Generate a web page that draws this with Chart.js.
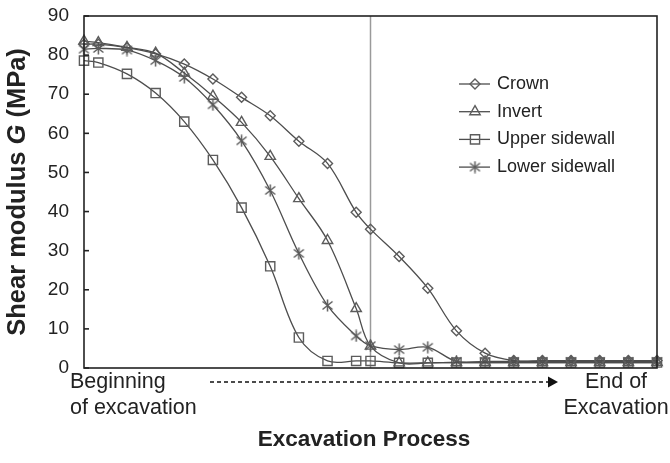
<!DOCTYPE html>
<html><head><meta charset="utf-8">
<script src="https://cdn.jsdelivr.net/npm/chart.js@4"></script>
<style>html,body{margin:0;padding:0;background:#fff;}#wrap{width:670px;height:463px;position:relative;}</style>
</head><body><div id="wrap"><canvas id="c" width="670" height="463"></canvas></div>
<script>
// excavation steps (x positions along the process)
const steps = [0, 0.5, 1.5, 2.5, 3.5, 4.5, 5.5, 6.5, 7.5, 8.5, 9.5, 10, 11, 12, 13, 14, 15, 16, 17, 18, 19, 20];
const crown         = [82.8, 82.8, 81.9, 80.3, 77.7, 73.9, 69.2, 64.5, 58.0, 52.3, 39.8, 35.5, 28.5, 20.4, 9.5, 3.8, 1.9, 1.9, 1.9, 1.9, 1.9, 1.9];
const invert        = [83.6, 83.2, 82.0, 80.5, 75.4, 69.5, 62.8, 54.1, 43.3, 32.6, 15.2, 5.6, 1.3, 1.3, 1.4, 1.4, 1.4, 1.4, 1.4, 1.4, 1.4, 1.4];
const upperSidewall = [78.6, 78.1, 75.2, 70.3, 63.0, 53.2, 41.0, 26.0, 7.8, 1.8, 1.8, 1.8, 1.3, 1.3, 1.4, 1.4, 1.4, 1.4, 1.4, 1.4, 1.4, 1.4];
const lowerSidewall = [81.5, 81.7, 81.3, 78.6, 74.3, 67.3, 58.1, 45.4, 29.3, 16.0, 8.2, 5.7, 4.7, 5.3, 1.7, 1.7, 1.7, 1.7, 1.7, 1.7, 1.7, 1.7];
const seriesNames = ['Crown', 'Invert', 'Upper sidewall', 'Lower sidewall'];
const yTickValues = [0, 10, 20, 30, 40, 50, 60, 70, 80, 90];
const markerStep = 10; // vertical reference line
const startLabel = ['Beginning', 'of excavation'];
const endLabel = ['End of', 'Excavation'];
const xTitle = 'Excavation Process';
const yTitleParts = [['Shear modulus ', false], ['G', true], [' (MPa)', false]];

const FONT = '"Liberation Sans", Arial, sans-serif';
const LINE = '#4d4d4d';
const MARK = '#5c5c5c';

// asterisk marker (vertical bar + X)
const asterisk = document.createElement('canvas');
asterisk.width = 13; asterisk.height = 13;
(function () {
  const g = asterisk.getContext('2d');
  g.strokeStyle = MARK; g.lineWidth = 1.5;
  g.beginPath();
  g.moveTo(6.5, 0.5); g.lineTo(6.5, 12.5);
  g.moveTo(1.5, 2.5); g.lineTo(11.5, 10.5);
  g.moveTo(1.5, 10.5); g.lineTo(11.5, 2.5);
  g.stroke();
})();

const styles = [
  {pointStyle: 'rectRot', radius: 5},
  {pointStyle: 'triangle', radius: 6},
  {pointStyle: 'rect', radius: 6.5},
  {pointStyle: asterisk, radius: 6}
];
const seriesData = [crown, invert, upperSidewall, lowerSidewall];

const datasets = seriesData.map((arr, i) => ({
  label: seriesNames[i],
  data: steps.map((x, j) => ({x: x, y: arr[j]})),
  borderColor: LINE,
  borderWidth: 1.3,
  backgroundColor: 'rgba(0,0,0,0)',
  pointStyle: styles[i].pointStyle,
  pointRadius: styles[i].radius,
  pointBorderColor: MARK,
  pointBackgroundColor: 'rgba(0,0,0,0)',
  pointBorderWidth: 1.4,
  tension: 0.35,
  fill: false,
  clip: false
}));

function drawMarker(ctx, style, r, x, y) {
  if (typeof style !== 'string') { ctx.drawImage(style, x - style.width / 2, y - style.height / 2); return; }
  if (Chart.helpers && Chart.helpers.drawPoint) {
    Chart.helpers.drawPoint(ctx, {pointStyle: style, radius: r, rotation: 0, borderWidth: 1.4}, x, y);
    return;
  }
  ctx.beginPath();
  if (style === 'rect') { const s = r * Math.SQRT1_2; ctx.rect(x - s, y - s, 2 * s, 2 * s); }
  else if (style === 'rectRot') { ctx.moveTo(x, y - r); ctx.lineTo(x + r, y); ctx.lineTo(x, y + r); ctx.lineTo(x - r, y); ctx.closePath(); }
  else { ctx.moveTo(x, y - r); ctx.lineTo(x + r * 0.866, y + r / 2); ctx.lineTo(x - r * 0.866, y + r / 2); ctx.closePath(); }
  ctx.stroke();
}

const decor = {
  id: 'decor',
  beforeDatasetsDraw(chart) {
    const ctx = chart.ctx, a = chart.chartArea;
    const xs = chart.scales.x.getPixelForValue(markerStep);
    ctx.save();
    ctx.strokeStyle = '#9a9a9a';
    ctx.lineWidth = 1.5;
    ctx.beginPath(); ctx.moveTo(xs, a.top); ctx.lineTo(xs, a.bottom); ctx.stroke();
    ctx.restore();
  },
  afterDraw(chart) {
    const ctx = chart.ctx, a = chart.chartArea, ys = chart.scales.y;
    ctx.save();
    // frame
    ctx.strokeStyle = '#222';
    ctx.lineWidth = 1.6;
    ctx.strokeRect(a.left, a.top, a.right - a.left, a.bottom - a.top);
    // inward ticks
    yTickValues.forEach(v => {
      const y = ys.getPixelForValue(v);
      ctx.beginPath(); ctx.moveTo(a.left, y); ctx.lineTo(a.left + 5, y); ctx.stroke();
    });
    // legend
    const lx0 = 459, lx1 = 490, lmx = 475, ltx = 497, ly0 = 84, ldy = 27.7;
    ctx.font = '18px ' + FONT;
    ctx.textBaseline = 'middle';
    ctx.textAlign = 'left';
    seriesNames.forEach((n, i) => {
      const y = ly0 + i * ldy;
      ctx.strokeStyle = LINE; ctx.lineWidth = 1.3;
      ctx.beginPath(); ctx.moveTo(lx0, y); ctx.lineTo(lx1, y); ctx.stroke();
      ctx.strokeStyle = MARK; ctx.lineWidth = 1.4; ctx.fillStyle = 'rgba(0,0,0,0)';
      drawMarker(ctx, styles[i].pointStyle, styles[i].radius, lmx, y);
      ctx.fillStyle = '#222';
      ctx.fillText(n, ltx, y);
    });
    // bottom labels
    ctx.fillStyle = '#222';
    ctx.font = '21.5px ' + FONT;
    ctx.textAlign = 'left';
    ctx.fillText(startLabel[0], 70, 382);
    ctx.fillText(startLabel[1], 70, 408);
    ctx.textAlign = 'center';
    ctx.fillText(endLabel[0], 616, 382);
    ctx.fillText(endLabel[1], 616, 408);
    // dashed arrow
    ctx.strokeStyle = '#111'; ctx.lineWidth = 1.6;
    ctx.setLineDash([4, 3]);
    ctx.beginPath(); ctx.moveTo(210, 382); ctx.lineTo(548, 382); ctx.stroke();
    ctx.setLineDash([]);
    ctx.fillStyle = '#111';
    ctx.beginPath(); ctx.moveTo(548, 376.5); ctx.lineTo(558, 382); ctx.lineTo(548, 387.5); ctx.closePath(); ctx.fill();
    // x title
    ctx.fillStyle = '#222';
    ctx.font = 'bold 22.5px ' + FONT;
    ctx.textAlign = 'center';
    ctx.fillText(xTitle, 364, 440);
    // y title
    ctx.translate(18, (a.top + a.bottom) / 2);
    ctx.rotate(-Math.PI / 2);
    const fonts = yTitleParts.map(p => (p[1] ? 'italic bold 25.5px ' : 'bold 25.5px ') + FONT);
    let total = 0;
    const widths = yTitleParts.map((p, i) => { ctx.font = fonts[i]; const w = ctx.measureText(p[0]).width; total += w; return w; });
    let x = -total / 2;
    ctx.textAlign = 'left';
    yTitleParts.forEach((p, i) => { ctx.font = fonts[i]; ctx.fillText(p[0], x, 0); x += widths[i]; });
    ctx.restore();
  }
};

new Chart(document.getElementById('c'), {
  type: 'line',
  data: {datasets: datasets},
  options: {
    responsive: false,
    animation: false,
    devicePixelRatio: 1,
    layout: {padding: {left: 0, right: 13, top: 16, bottom: 0}},
    plugins: {legend: {display: false}, tooltip: {enabled: false}},
    scales: {
      x: {
        type: 'linear', min: 0, max: 20,
        grid: {display: false, drawTicks: false},
        border: {display: false},
        ticks: {display: false},
        afterFit(s) { s.height = 95; s.paddingLeft = 0; s.paddingRight = 0; }
      },
      y: {
        min: 0, max: 90,
        grid: {display: false, drawTicks: false},
        border: {display: false},
        afterBuildTicks(s) { s.ticks = yTickValues.map(v => ({value: v})); },
        ticks: {color: '#222', font: {family: FONT, size: 19}, padding: 15},
        afterFit(s) { s.width = 84; s.paddingTop = 0; s.paddingBottom = 0; }
      }
    }
  },
  plugins: [decor]
});
</script>
</body></html>
